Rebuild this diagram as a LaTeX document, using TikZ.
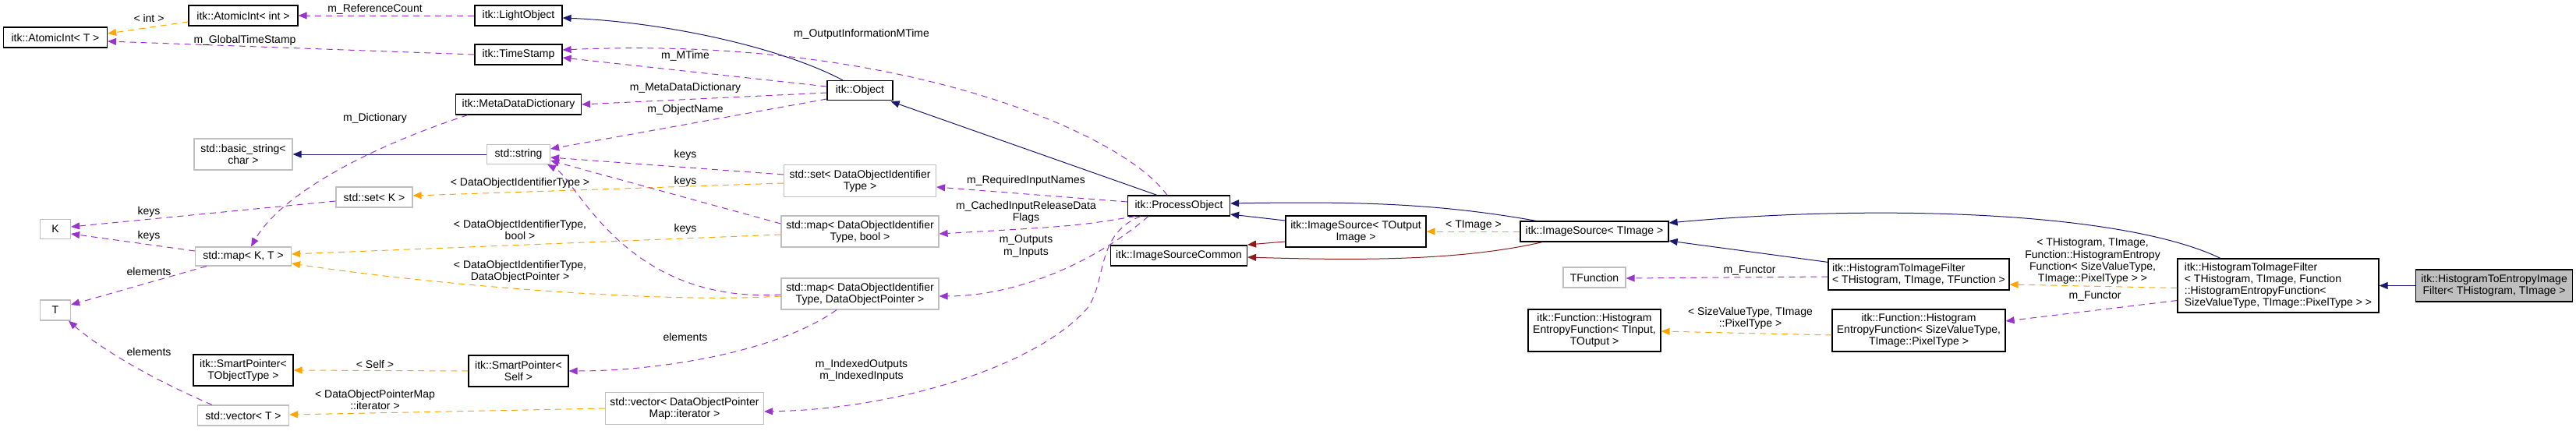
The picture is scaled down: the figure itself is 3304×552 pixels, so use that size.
\documentclass[tikz,border=0pt]{standalone}
\usepackage{fontspec}
\setmainfont{Liberation Sans}
\usetikzlibrary{arrows.meta,calc}
\definecolor{nv}{HTML}{191970}
\definecolor{pu}{HTML}{9A32CD}
\definecolor{og}{HTML}{FFA500}
\definecolor{dr}{HTML}{8B1A1A}
\definecolor{gb}{HTML}{BFBFBF}
\tikzset{
 box/.style={draw=black,line width=0.6pt,fill=white,align=center,inner sep=1pt,font=\fontsize{7}{7.6}\selectfont},
 gbox/.style={box,draw=gb},
 lbl/.style={align=center,inner sep=0pt,font=\fontsize{7}{7.6}\selectfont},
 tip/.style={-{Triangle[length=5.5pt,width=4.5pt]}},
 inh/.style={tip,draw=nv,line width=0.5pt},
 inr/.style={tip,draw=dr,line width=0.5pt},
 usep/.style={tip,draw=pu,line width=0.5pt,dash pattern=on 4pt off 3pt},
 tmpl/.style={tip,draw=og,line width=0.5pt,dash pattern=on 4pt off 3pt},
}
\begin{document}
\begin{tikzpicture}[x=0.5pt,y=-0.5pt]
\useasboundingbox (0,0) rectangle (3304,552);
% nodes
\node[box,minimum width=66.5pt,minimum height=13pt] (ait) at (71,48) {itk::AtomicInt< T >};
\node[box,minimum width=70pt,minimum height=13pt] (aint) at (312,20) {itk::AtomicInt< int >};
\node[gbox,minimum width=63pt,minimum height=20pt] (bs) at (312,198) {std::basic\_string<\\char >};
\node[gbox,minimum width=49pt,minimum height=13pt] (setk) at (480,253) {std::set< K >};
\node[gbox,minimum width=19.5pt,minimum height=12.5pt] (k) at (71,294) {K};
\node[gbox,minimum width=61.5pt,minimum height=12pt] (mapkt) at (312,329) {std::map< K, T >};
\node[gbox,minimum width=19.5pt,minimum height=13pt] (t) at (71,398) {T};
\node[box,minimum width=64pt,minimum height=20pt] (spt) at (312,475) {itk::SmartPointer<\\TObjectType >};
\node[gbox,minimum width=58.5pt,minimum height=13pt] (vect) at (312,533) {std::vector< T >};
\node[box,minimum width=56pt,minimum height=13pt] (lo) at (665,20) {itk::LightObject};
\node[box,minimum width=56pt,minimum height=13pt] (ts) at (665,70) {itk::TimeStamp};
\node[box,minimum width=80.5pt,minimum height=13pt] (mdd) at (665,134) {itk::MetaDataDictionary};
\node[box,minimum width=42pt,minimum height=12.5pt] (obj) at (1103,116) {itk::Object};
\node[gbox,minimum width=40.5pt,minimum height=12.5pt] (str) at (665,198) {std::string};
\node[gbox,minimum width=97.5pt,minimum height=20.5pt] (setd) at (1103,232) {std::set< DataObjectIdentifier\\Type >};
\node[gbox,minimum width=101pt,minimum height=20pt] (mapdb) at (1103,297) {std::map< DataObjectIdentifier\\Type, bool >};
\node[gbox,minimum width=101pt,minimum height=20pt] (mapdp) at (1103,377) {std::map< DataObjectIdentifier\\Type, DataObjectPointer >};
\node[box,minimum width=64pt,minimum height=20pt] (sps) at (665,476) {itk::SmartPointer<\\Self >};
\node[gbox,minimum width=101.5pt,minimum height=20.5pt] (vecd) at (878,524) {std::vector< DataObjectPointer\\Map::iterator >};
\node[box,minimum width=65.5pt,minimum height=13pt] (po) at (1512,264) {itk::ProcessObject};
\node[box,minimum width=87.5pt,minimum height=13pt] (isc) at (1512,328) {itk::ImageSourceCommon};
\node[box,minimum width=90pt,minimum height=20pt] (iso) at (1739,297) {itk::ImageSource< TOutput\\Image >};
\node[box,minimum width=95pt,minimum height=13pt] (ist) at (2045,297) {itk::ImageSource< TImage >};
\node[gbox,minimum width=40pt,minimum height=13pt] (tf) at (2045,356) {TFunction};
\node[box,minimum width=85pt,minimum height=27pt] (hefin) at (2045,424) {itk::Function::Histogram\\EntropyFunction< TInput,\\TOutput >};
\node[box,minimum width=116pt,minimum height=20pt,align=left] (htif) at (2461,352) {itk::HistogramToImageFilter\\< THistogram, TImage, TFunction >};
\node[box,minimum width=111pt,minimum height=27pt] (hefs) at (2461,424) {itk::Function::Histogram\\EntropyFunction< SizeValueType,\\TImage::PixelType >};
\node[box,minimum width=129pt,minimum height=34.5pt,align=left] (big) at (2922,366.5) {itk::HistogramToImageFilter\\< THistogram, TImage, Function\\::HistogramEntropyFunction<\\ SizeValueType, TImage::PixelType > >};
\node[box,fill=gb,minimum width=100.5pt,minimum height=20.5pt] (hteif) at (3199,366.5) {itk::HistogramToEntropyImage\\Filter< THistogram, TImage >};
% edges
\draw[tmpl] ($(aint.west)+(0,8)$) -- ($(ait.east)+(0,-5)$);
\draw[usep] (lo.west) -- (aint.east);
\draw[usep] (ts.west) -- ($(ait.east)+(0,5)$);
\draw[inh] ($(obj.north)+(-22,0)$) .. controls (1000,60) and (850,28) .. ($(lo.east)+(0,3)$);
\draw[usep] ($(obj.west)+(0,-5)$) -- ($(ts.east)+(0,4)$);
\draw[usep] ($(obj.west)+(0,3)$) -- (mdd.east);
\draw[usep] ($(obj.west)+(0,11)$) -- ($(str.east)+(0,-7)$);
\draw[usep] ($(po.north)+(-15,0)$) .. controls (1440,170) and (1150,45) .. ($(ts.east)+(0,-6)$);
\draw[inh] ($(po.north)+(-28,0)$) -- ($(obj.south east)+(-3,1)$);
\draw[usep] ($(mdd.south west)+(16,0)$) .. controls (470,190) and (360,250) .. ($(mapkt.north)+(10,0)$);
\draw[inh] (str.west) -- (bs.east);
\draw[usep] ($(setk.west)+(0,5)$) -- ($(k.east)+(0,-3)$);
\draw[usep] ($(mapkt.west)+(0,-7)$) -- ($(k.east)+(0,6)$);
\draw[usep] ($(mapkt.south west)+(15,0)$) -- ($(t.east)+(0,-7)$);
\draw[usep] ($(vect.north)+(-40,0)$) .. controls (180,480) and (120,440) .. ($(t.south east)+(-3,0)$);
\draw[tmpl] ($(setd.west)+(0,3)$) -- ($(setk.east)+(0,-2)$);
\draw[tmpl] ($(mapdb.west)+(0,4)$) -- ($(mapkt.east)+(0,-3)$);
\draw[tmpl] ($(mapdp.west)+(0,3)$) .. controls (850,390) and (550,365) .. ($(mapkt.east)+(0,9)$);
\draw[usep] ($(setd.west)+(0,-8)$) -- ($(str.east)+(0,4)$);
\draw[usep] ($(mapdb.west)+(0,-10)$) -- ($(str.east)+(0,8)$);
\draw[usep] ($(mapdp.west)+(0,1)$) .. controls (800,390) and (740,230) .. ($(str.south east)+(-4,0)$);
\draw[usep] ($(mapdp.south)+(-30,0)$) .. controls (1000,450) and (850,476) .. (sps.east);
\draw[tmpl] (sps.west) -- (spt.east);
\draw[tmpl] (vecd.west) -- ($(vect.east)+(0,-1)$);
\draw[usep] ($(po.west)+(0,-5)$) -- ($(setd.east)+(0,8)$);
\draw[usep] ($(po.south west)+(10,0)$) .. controls (1380,290) .. ($(mapdb.east)+(0,3)$);
\draw[usep] ($(po.south west)+(27,0)$) .. controls (1400,340) and (1300,380) .. ($(mapdp.east)+(0,3)$);
\draw[usep] ($(po.south west)+(17,0)$) .. controls (1405,300) and (1420,360) .. (1395,395) .. controls (1330,470) and (1150,525) .. ($(vecd.east)+(0,4)$);
\draw[inh] ($(iso.west)+(0,-14)$) -- ($(po.east)+(0,11)$);
\draw[inr] ($(iso.west)+(0,13)$) -- ($(isc.east)+(0,-14)$);
\draw[tmpl] (ist.west) -- (iso.east);
\draw[inh] ($(ist.north west)+(21,0)$) .. controls (1850,262) and (1750,258) .. ($(po.east)+(0,-3)$);
\draw[inr] ($(ist.south west)+(29,0)$) .. controls (1880,333) and (1760,335) .. ($(isc.east)+(0,2)$);
\draw[inh] ($(htif.north west)+(0,5)$) -- ($(ist.east)+(0,12)$);
\draw[inh] ($(big.north)+(-74,0)$) .. controls (2720,270) and (2400,262) .. ($(ist.east)+(0,-11)$);
\draw[usep] ($(htif.west)+(0,3)$) -- ($(tf.east)+(0,1)$);
\draw[tmpl] ($(hefs.west)+(0,6)$) -- ($(hefin.east)+(0,1)$);
\draw[tmpl] ($(big.west)+(0,3)$) -- ($(htif.east)+(0,13)$);
\draw[usep] ($(big.west)+(0,19)$) -- ($(hefs.east)+(0,-12)$);
\draw[inh] (hteif.west) -- (big.east);
% labels
\node[lbl] (l1) at (191,23) {< int >};
\node[lbl] (l2) at (481,12) {m\_ReferenceCount};
\node[lbl] (l3) at (314,52) {m\_GlobalTimeStamp};
\node[lbl] (l4) at (481,152) {m\_Dictionary};
\node[lbl] (l5) at (191,272) {keys};
\node[lbl] (l6) at (191,303) {keys};
\node[lbl] (l7) at (191,348) {elements};
\node[lbl] (l8) at (191,451) {elements};
\node[lbl] (l9) at (481,467) {< Self >};
\node[lbl] (l10) at (481,513) {< DataObjectPointerMap\\::iterator >};
\node[lbl] (l11) at (1105,44) {m\_OutputInformationMTime};
\node[lbl] (l12) at (879,72) {m\_MTime};
\node[lbl] (l13) at (879,113) {m\_MetaDataDictionary};
\node[lbl] (l14) at (879,141) {m\_ObjectName};
\node[lbl] (l15) at (879,199) {keys};
\node[lbl] (l16) at (879,233) {keys};
\node[lbl] (l17) at (879,294) {keys};
\node[lbl] (l18) at (667,235) {< DataObjectIdentifierType >};
\node[lbl] (l19) at (667,295) {< DataObjectIdentifierType,\\bool >};
\node[lbl] (l20) at (667,348) {< DataObjectIdentifierType,\\DataObjectPointer >};
\node[lbl] (l21) at (879,432) {elements};
\node[lbl] (l22) at (1105,475) {m\_IndexedOutputs\\m\_IndexedInputs};
\node[lbl] (l23) at (1316,232) {m\_RequiredInputNames};
\node[lbl] (l24) at (1316,272) {m\_CachedInputReleaseData\\Flags};
\node[lbl] (l25) at (1316,316) {m\_Outputs\\m\_Inputs};
\node[lbl] (l26) at (1890,289) {< TImage >};
\node[lbl] (l27) at (2244,347) {m\_Functor};
\node[lbl] (l28) at (2245,408) {< SizeValueType, TImage\\::PixelType >};
\node[lbl] (l29) at (2684,335) {< THistogram, TImage,\\Function::HistogramEntropy\\Function< SizeValueType,\\TImage::PixelType > >};
\node[lbl] (l30) at (2687,380) {m\_Functor};
\end{tikzpicture}
\end{document}
